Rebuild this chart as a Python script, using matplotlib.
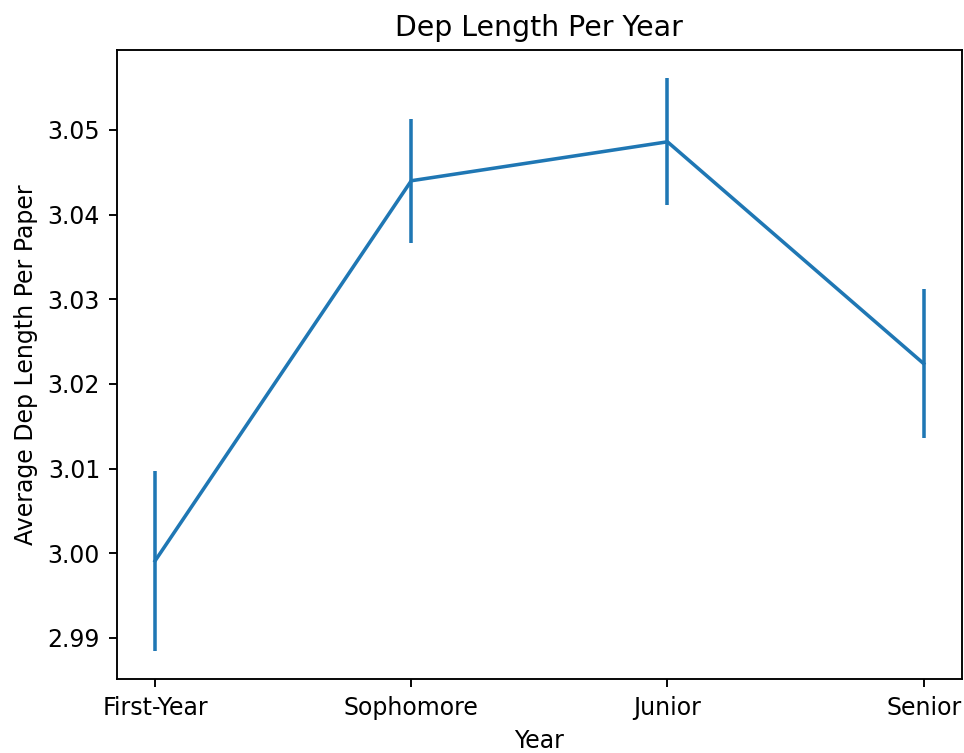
import matplotlib
matplotlib.use("Agg")
import matplotlib.pyplot as plt

# 학년별 평균 의존 길이
years = ["First-Year", "Sophomore", "Junior", "Senior"]
mean_dep = [2.9991, 3.0440, 3.0486, 3.0224]
err_dep = [0.0106, 0.0073, 0.0075, 0.0088]

DPI = 170
fig = plt.figure(figsize=(964 / DPI, 753 / DPI), dpi=DPI)
ax = fig.add_axes([0.121, 0.098, 0.877, 0.836])

ax.errorbar(years, mean_dep, yerr=err_dep)

ax.set_title("Dep Length Per Year")
ax.set_xlabel("Year")
ax.set_ylabel("Average Dep Length Per Paper")

fig.savefig("out.png", dpi=DPI)
